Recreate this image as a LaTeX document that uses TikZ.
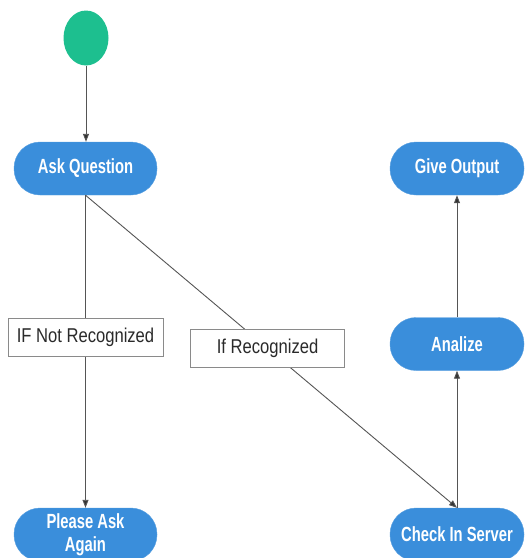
\documentclass[tikz,border=0pt]{standalone}
\usepackage{fontspec}
\setmainfont{Liberation Sans}
\newfontfamily\nodefont[FakeStretch=0.72]{Liberation Sans}
\newfontfamily\labelfont[FakeStretch=0.83]{Liberation Sans}
\usetikzlibrary{arrows.meta,shapes.geometric}
\definecolor{nodeblue}{HTML}{3A8EDB}
\definecolor{startgreen}{HTML}{1DBF8F}
\definecolor{linegray}{HTML}{555555}
\definecolor{boxgray}{HTML}{8A8A8A}
\definecolor{textgray}{HTML}{2A2A2A}
\tikzset{
  state/.style={rectangle, rounded corners=26pt, fill=nodeblue, draw=nodeblue!85!white,
    minimum width=143pt, minimum height=53pt, inner sep=0pt, text=white,
    font=\nodefont\bfseries\fontsize{20.5}{23}\selectfont, align=center},
  startnode/.style={ellipse, fill=startgreen, minimum width=45pt, minimum height=55pt, inner sep=0pt},
  guard/.style={rectangle, draw=boxgray, fill=white, text=textgray, line width=0.8pt,
    font=\labelfont\fontsize{20}{23}\selectfont, minimum height=38pt, inner sep=6pt},
  flow/.style={draw=linegray, line width=0.9pt, -{Triangle[length=8pt,width=6pt,fill=black!80]}},
}
\begin{document}
\begin{tikzpicture}[x=1pt,y=-1pt]
\useasboundingbox (0,0) rectangle (526,558);
\clip (0,0) rectangle (526,558);
\node[startnode] (start) at (86,38) {};
\node[state] (ask) at (85.5,168.5) {Ask Question};
\node[state] (again) at (85.5,534.5) {Please Ask\\Again};
\node[state, minimum width=134pt] (give) at (457,168.5) {Give Output};
\node[state, minimum width=134pt] (anal) at (457,344) {Analize};
\node[state, minimum width=134pt] (check) at (457,534.5) {Check In Server};
\draw[flow] (start) -- (ask.north -| start);
\draw[flow] (ask.south) -- node[guard, pos=0.455, minimum width=155pt] (notrec) {IF Not Recognized} (again.north);
\draw[flow] (ask.south) -- node[guard, pos=0.49, minimum width=154pt] (rec) {If Recognized} (check.north);
\draw[flow] (check) -- (anal);
\draw[flow] (anal) -- (give);
\end{tikzpicture}
\end{document}
